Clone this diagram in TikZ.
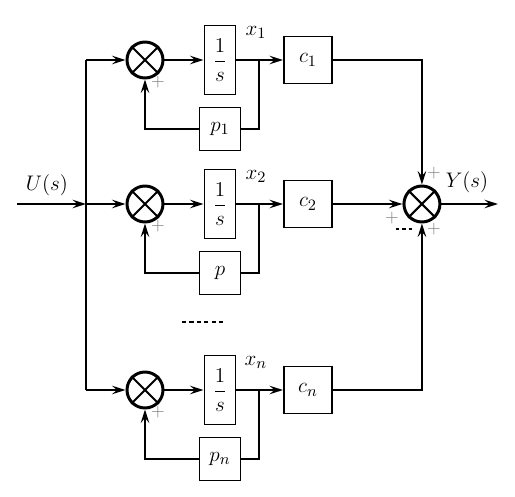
\documentclass[tikz,border=0pt]{standalone}
\usepackage{amsmath}
\usetikzlibrary{arrows.meta,positioning}

\tikzset{
	sum/.style={circle,draw,line width=1.7pt,minimum size=7.2mm,inner sep=0pt},
	integ/.style={rectangle,draw,minimum width=6.2mm,minimum height=13.8mm,inner sep=0pt},
	gain/.style={rectangle,draw,minimum width=9.6mm,minimum height=9.4mm,inner sep=0pt},
	fback/.style={rectangle,draw,minimum width=8.2mm,minimum height=8.6mm,inner sep=0pt},
	sgn/.style={gray,font=\fontsize{10}{12}\selectfont,inner sep=0pt}
}

\begin{document}
\begin{tikzpicture}[x=0.02cm,y=-0.02cm,on grid,line width=1.1pt,
	>={Stealth[length=2.7mm,width=1.7mm,inset=1mm]},
	font=\fontsize{13}{15}\selectfont]
	\useasboundingbox (0,0) rectangle (515,497);

	\node[sum] (s1) at (145,60) {};
	\node[sum] (s2) at (145,204) {};
	\node[sum] (s3) at (145,390) {};

	% one branch per row
	\foreach \k/\j/\fb in {1/1/p_1,2/2/p,3/n/p_n} {
		\node[integ] (i\k) [right=15mm of s\k] {$\dfrac{1}{s}$};
		\node[gain] (c\k) [right=17.6mm of i\k] {$c_\j$};
		\node[fback] (p\k) [below=13.8mm of i\k] {$\fb$};
		\coordinate (b\k) at ([xshift=4.5mm]i\k.east);
		\node (x\k) [above=3mm of b\k, xshift=-0.6mm] {$x_\j$};
		\node[sgn] (sg\k) at ([shift={(13,22)}]s\k.center) {$+$};

		\path[->] (s\k) edge (i\k);
		\draw (i\k) -- (b\k);
		\draw[->] (b\k) -- (c\k);
		\draw (b\k) |- (p\k);
		\draw[->] (p\k) -| (s\k);
	}

	\node[sum] (out) [right=22.8mm of c2] {};
	\foreach \n in {s1,s2,s3,out}
		\draw[line width=1.2pt] (\n.north west) -- (\n.south east)
			(\n.north east) -- (\n.south west);

	% input bus
	\coordinate (uin) at (17,204);
	\coordinate (bus) at (86,204);
	\node (ulab) at (47,185) {$U(s)$};
	\draw[->] (uin) -- (bus);
	\draw (s1 -| bus) -- (s3 -| bus);
	\path[->]
	(bus) edge (s2)
	(s1 -| bus) edge (s1)
	(s3 -| bus) edge (s3);

	% output
	\coordinate (yout) at (498,204);
	\node (ylab) at (467,182) {$Y(s)$};
	\draw[->] (c1) -| (out);
	\draw[->] (c2) -- (out);
	\draw[->] (c3) -| (out);
	\draw[->] (out) -- (yout);

	\node[sgn] (sga) at ([shift={(12,-31)}]out.center) {$+$};
	\node[sgn] (sgb) at ([shift={(-30,14)}]out.center) {$+$};
	\node[sgn] (sgc) at ([shift={(12,25)}]out.center) {$+$};
	\draw[line width=1.3pt,dash pattern=on 2pt off 1.6pt]
		([shift={(-26,25)}]out.center) -- ([shift={(-8,25)}]out.center);

	% more rows
	\coordinate (dotl) at (182,322);
	\coordinate (dotr) at (224,322);
	\draw[line width=0.8pt,dash pattern=on 2.4pt off 1.8pt] (dotl) -- (dotr);
\end{tikzpicture}
\end{document}
